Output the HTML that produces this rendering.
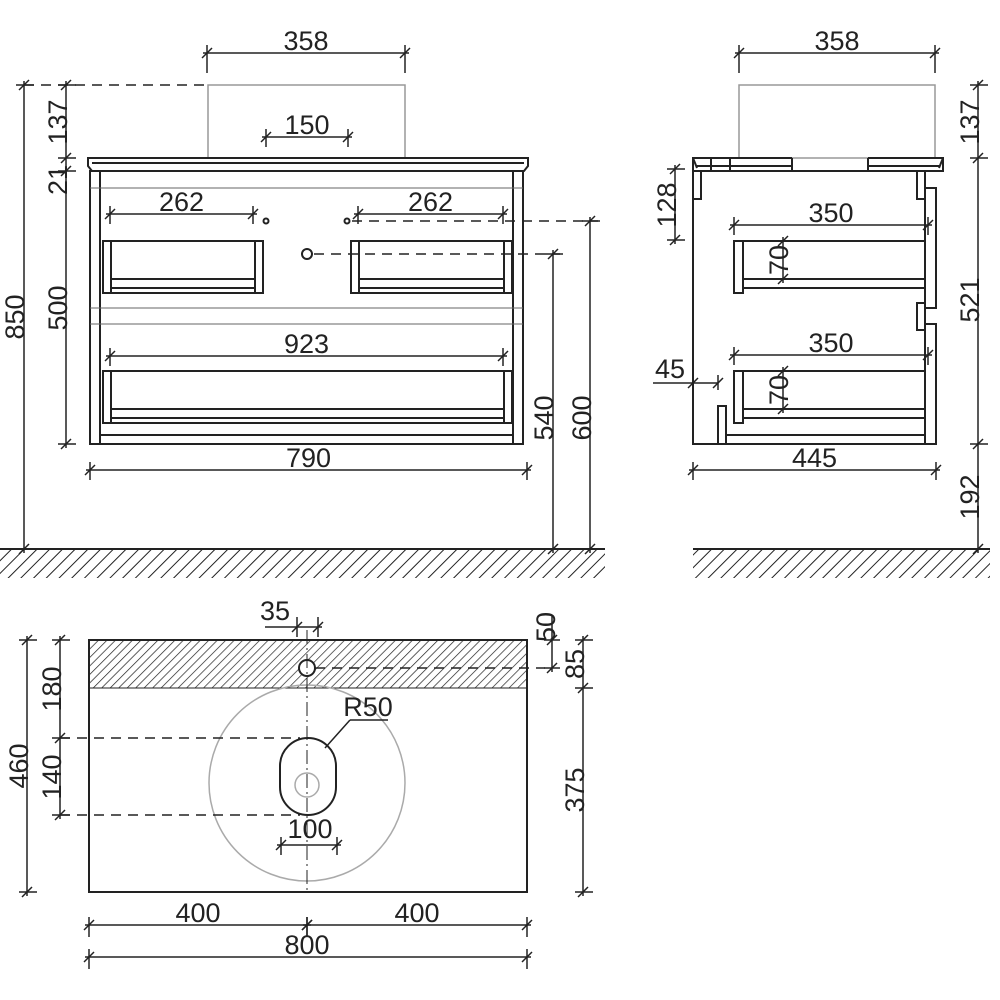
<!DOCTYPE html>
<html><head><meta charset="utf-8"><style>
html,body{margin:0;padding:0;background:#fff}
svg{display:block}
text{font-family:"Liberation Sans",sans-serif;font-size:27px;fill:#222}
</style></head><body>
<svg id="s" width="1000" height="1000" viewBox="0 0 1000 1000" xmlns="http://www.w3.org/2000/svg">
<defs>
<pattern id="h" width="6" height="6" patternUnits="userSpaceOnUse" patternTransform="rotate(45)">
<line x1="0" y1="0" x2="0" y2="6" stroke="#222" stroke-width="1.4"/></pattern>
<pattern id="g" width="9" height="9" patternUnits="userSpaceOnUse" patternTransform="rotate(45)">
<line x1="0" y1="0" x2="0" y2="9" stroke="#222" stroke-width="2"/></pattern>
</defs>
<g fill="none" stroke="#222" stroke-width="2">
<rect x="208" y="85" width="197" height="73" stroke="#999" stroke-width="1.5"/>
<polygon points="88,158 528,158 528,166 524,171 92,171 88,166"/>
<line x1="92" y1="163" x2="524" y2="163"/>
<rect x="90" y="171" width="433" height="273"/>
<line x1="100" y1="171" x2="100" y2="444"/><line x1="513" y1="171" x2="513" y2="444"/>
<line x1="100" y1="435" x2="513" y2="435"/>
<g stroke-width="1" stroke="#666"><line x1="90" y1="188" x2="523" y2="188"/><line x1="90" y1="308" x2="523" y2="308"/><line x1="90" y1="324" x2="523" y2="324"/></g>
<rect x="103" y="241" width="160" height="52"/><rect x="103" y="241" width="8" height="52"/><rect x="255" y="241" width="8" height="52"/><rect x="111" y="279" width="144" height="9"/>
<rect x="351" y="241" width="161" height="52"/><rect x="351" y="241" width="8" height="52"/><rect x="504" y="241" width="8" height="52"/><rect x="359" y="279" width="145" height="9"/>
<rect x="103" y="371" width="409" height="52"/><rect x="103" y="371" width="8" height="52"/><rect x="504" y="371" width="8" height="52"/><rect x="111" y="409" width="393" height="9"/>
<circle cx="266" cy="221" r="2.5"/><circle cx="347" cy="221" r="2.5"/><circle cx="307" cy="254" r="5"/>
<g stroke-dasharray="10,7" stroke-width="1.5">
<line x1="24" y1="85" x2="208" y2="85"/><line x1="352" y1="221" x2="598" y2="221"/><line x1="314" y1="254" x2="560" y2="254"/>
</g>
<rect x="739" y="85" width="196" height="73" stroke="#999" stroke-width="1.5"/>
<polyline points="792,158 693,158 693,171 943,171 943,158 868,158"/>
<line x1="693" y1="158" x2="697" y2="168"/><line x1="943" y1="158" x2="939" y2="168"/>
<line x1="697" y1="166" x2="792" y2="166"/><line x1="868" y1="166" x2="939" y2="166"/>
<line x1="711" y1="158" x2="711" y2="171"/><line x1="730" y1="158" x2="730" y2="171"/>
<line x1="792" y1="158" x2="792" y2="171"/><line x1="868" y1="158" x2="868" y2="171"/>
<polyline points="925,171 925,188 936,188 936,308 925,308 925,324 936,324 936,444 693,444 693,171"/>
<rect x="693" y="171" width="8" height="28"/><rect x="917" y="171" width="8" height="28"/><rect x="917" y="303" width="8" height="27"/>
<line x1="925" y1="324" x2="925" y2="444"/><line x1="925" y1="188" x2="925" y2="303"/>
<rect x="734" y="241" width="9" height="52"/><line x1="743" y1="241" x2="925" y2="241"/><rect x="743" y="279" width="182" height="9"/>
<rect x="734" y="371" width="9" height="52"/><line x1="743" y1="371" x2="925" y2="371"/><rect x="743" y="409" width="182" height="9"/>
<rect x="718" y="406" width="8" height="38"/><line x1="726" y1="435" x2="925" y2="435"/>
<rect x="0" y="549" width="605" height="29" fill="url(#g)" stroke="none"/><line x1="0" y1="549" x2="605" y2="549"/>
<rect x="693" y="549" width="297" height="29" fill="url(#g)" stroke="none"/><line x1="693" y1="549" x2="990" y2="549"/>
<rect x="89" y="640" width="438" height="48" fill="url(#h)" stroke="none"/>
<rect x="89" y="640" width="438" height="252"/>
<line x1="89" y1="688" x2="527" y2="688" stroke-width="1"/>
<circle cx="307" cy="783" r="98" stroke="#aaa" stroke-width="1.5"/>
<circle cx="307" cy="785" r="12" stroke="#aaa" stroke-width="1.5"/>
<rect x="280" y="738" width="56" height="77" rx="28" ry="28" fill="none"/>
<circle cx="307" cy="668" r="8" fill="#fff"/>
<line x1="307" y1="630" x2="307" y2="892" stroke-width="1" stroke-dasharray="14,4,2,4"/>
<g stroke-dasharray="10,7" stroke-width="1.5">
<line x1="60" y1="738" x2="300" y2="738"/><line x1="60" y1="815" x2="300" y2="815"/><line x1="315" y1="668" x2="545" y2="668"/>
</g>
<polyline points="350,720 388,720" stroke-width="1.5"/><line x1="350" y1="720" x2="325" y2="748" stroke-width="1.5"/>
</g>
<g id="dims" stroke="#222" stroke-width="1.5" fill="none"></g>
<g id="txt"></g>
</svg>
<script>
var D=document.getElementById('dims'),T=document.getElementById('txt'),NS='http://www.w3.org/2000/svg';
function L(a,b,c,d){var l=document.createElementNS(NS,'line');l.setAttribute('x1',a);l.setAttribute('y1',b);l.setAttribute('x2',c);l.setAttribute('y2',d);D.appendChild(l);}
function tk(x,y){L(x-5,y+5,x+5,y-5);}
function tx(s,x,y,r){var t=document.createElementNS(NS,'text');t.textContent=s;t.setAttribute('text-anchor','middle');
 if(r){t.setAttribute('transform','translate('+(x+10)+','+y+') rotate(-90)');}else{t.setAttribute('x',x);t.setAttribute('y',y+5);}T.appendChild(t);}
function H(x1,x2,y,s,tx_,ty,ext){L(x1-4,y,x2+4,y);tk(x1,y);tk(x2,y);var e=ext||10;L(x1,y-8,x1,y+e);L(x2,y-8,x2,y+e);tx(s,tx_==null?(x1+x2)/2:tx_,ty==null?y-8:ty);}
function V(x,ys){L(x,ys[0]-4,x,ys[ys.length-1]+4);ys.forEach(function(y){tk(x,y);L(x-8,y,x+10,y);});}
H(207,405,53,'358',null,null,20);H(266,348,137,'150');H(110,253,214,'262');H(358,503,214,'262');H(110,503,356,'923');H(90,527,470,'790');
V(24,[85,549]);tx('850',14,317,1);
V(66,[85,158,171,444]);tx('137',57,122,1);tx('21',57,180,1);tx('500',57,308,1);
V(553,[254,549]);tx('540',543,418,1);V(590,[221,549]);tx('600',581,418,1);
H(739,935,53,'358',null,null,20);H(734,928,225,'350');H(734,928,355,'350');H(693,936,470,'445');
L(653,383,718,383);tk(693,383);tk(718,383);L(718,375,718,390);tx('45',670,373);
V(675,[169,240]);tx('128',666,205,1);
V(783,[241,279]);tx('70',778,260,1);V(783,[371,409]);tx('70',778,390,1);
V(978,[85,158,444,549]);tx('137',969,122,1);tx('521',969,300,1);tx('192',969,497,1);
L(265,627,322,627);tk(297,627);tk(318,627);L(297,617,297,637);L(318,617,318,637);tx('35',275,615);
H(281,337,845,'100',310,833);
L(552,615,552,672);tk(552,640);tk(552,668);L(544,640,560,640);L(544,668,560,668);tx('50',545,627,1);
V(583,[640,688,892]);tx('85',574,664,1);tx('375',574,790,1);
V(27,[640,892]);tx('460',18,766,1);V(60,[640,738,815]);tx('180',51,689,1);tx('140',51,777,1);
H(89,307,925,'400',198,null,12);H(307,527,925,'400',417,null,12);H(89,527,957,'800',307,null,12);
tx('R50',368,711);
</script>
</body></html>
